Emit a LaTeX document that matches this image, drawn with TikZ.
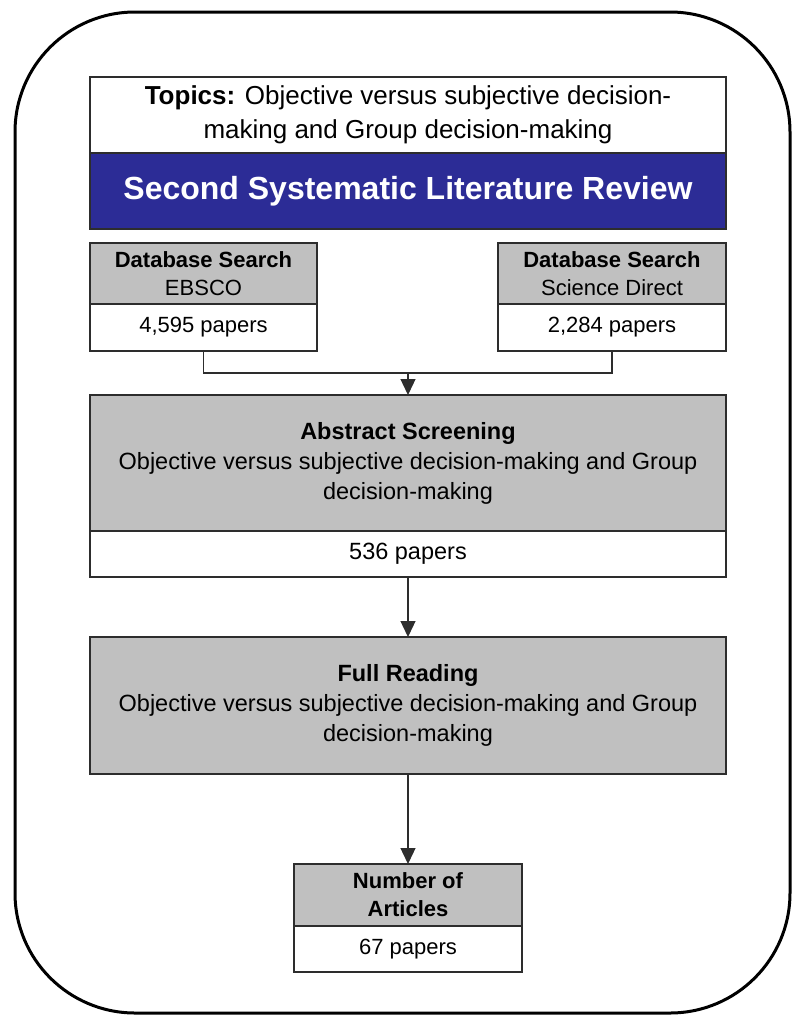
\documentclass[tikz,border=0pt]{standalone}
\usepackage{fontspec}
\setmainfont{Liberation Sans}
\usetikzlibrary{arrows.meta}
\definecolor{boxgrey}{RGB}{192,192,192}
\definecolor{bandblue}{RGB}{44,44,150}
\definecolor{edge}{RGB}{45,45,45}
\begin{document}
\begin{tikzpicture}[x=1pt,y=-1pt,
  panel/.style={draw=edge, line width=1.1pt, inner sep=0pt, outer sep=0pt,
                anchor=north west, align=center},
  greypanel/.style={panel, fill=boxgrey},
  whitepanel/.style={panel, fill=white},
  small/.style={font=\fontsize{22}{28}\selectfont},
  body/.style={font=\fontsize{23.5}{30}\selectfont},
  link/.style={draw=edge, line width=1.3pt},
  arrowlink/.style={link, -{Triangle[width=15pt,length=16pt]}},
]
\useasboundingbox (0,0) rectangle (794,1015);

% outer rounded frame
\draw[line width=3pt, rounded corners=120pt] (15,12) rectangle (790,1013);

% title block
\node[whitepanel, minimum width=636pt, minimum height=76pt,
      font=\fontsize{26}{34}\selectfont] (topics) at (90,77)
  {\textbf{Topics:} Objective versus subjective decision-\\making and Group decision-making};
\node[panel, fill=bandblue, text=white, minimum width=636pt, minimum height=76pt,
      font=\bfseries\fontsize{32}{38}\selectfont] (band) at (90,153)
  {Second Systematic Literature Review};

% database searches
\node[greypanel, small, minimum width=227pt, minimum height=61pt] (ebsco) at (90,243)
  {\textbf{Database Search}\\EBSCO};
\node[whitepanel, small, minimum width=227pt, minimum height=47pt] (ebscoN) at (90,304)
  {4,595 papers};
\node[greypanel, small, minimum width=228pt, minimum height=61pt] (sd) at (498,243)
  {\textbf{Database Search}\\Science Direct};
\node[whitepanel, small, minimum width=228pt, minimum height=47pt] (sdN) at (498,304)
  {2,284 papers};

% abstract screening
\node[greypanel, body, minimum width=636pt, minimum height=136pt] (abs) at (90,395)
  {\textbf{Abstract Screening}\\Objective versus subjective decision-making and Group\\decision-making};
\node[whitepanel, body, minimum width=636pt, minimum height=46pt] (absN) at (90,531)
  {536 papers};

% full reading
\node[greypanel, body, minimum width=636pt, minimum height=137pt] (full) at (90,637)
  {\textbf{Full Reading}\\Objective versus subjective decision-making and Group\\decision-making};

% final count
\node[greypanel, small, minimum width=228pt, minimum height=62pt] (count) at (294,864)
  {\textbf{Number of}\\\textbf{Articles}};
\node[whitepanel, small, minimum width=228pt, minimum height=46pt] (countN) at (294,926)
  {67 papers};

% connectors
\coordinate (lvl) at (0,373);
\coordinate (join) at (abs.north |- lvl);
\draw[link] (ebscoN.south) |- (join) -| (sdN.south);
\draw[arrowlink] (join) -- (abs.north);
\draw[arrowlink] (absN.south) -- (full.north);
\draw[arrowlink] (full.south) -- (count.north);
\end{tikzpicture}
\end{document}
